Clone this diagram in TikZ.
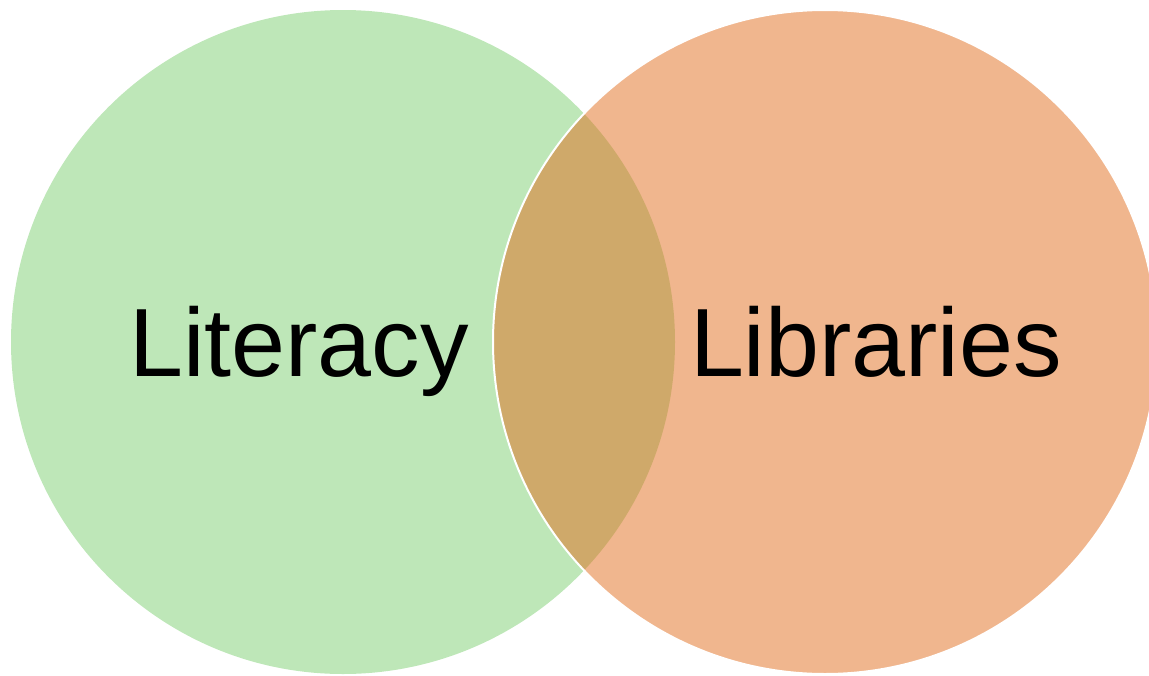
\documentclass[tikz,border=0pt]{standalone}
\usepackage{fontspec}
\setmainfont{Liberation Sans}
\definecolor{litgreen}{RGB}{190,231,184}
\definecolor{liborange}{RGB}{225,109,29}
\begin{document}
\begin{tikzpicture}[x=1pt,y=-1pt]
\tikzset{
  label/.style={font=\fontsize{97}{110}\selectfont, text=black, inner sep=0pt, anchor=base}
}
\useasboundingbox (0,0) rectangle (1149,675);
\clip (0,0) rectangle (1149,675);
\fill[litgreen] (343,342) circle[radius=332];
\draw[white, line width=2pt, fill=liborange, fill opacity=0.5] (825,342) circle[radius=332];
\node[label] (lit) at (299,376) {Literacy};
\node[label] (lib) at (876,376) {Libraries};
\end{tikzpicture}
\end{document}
